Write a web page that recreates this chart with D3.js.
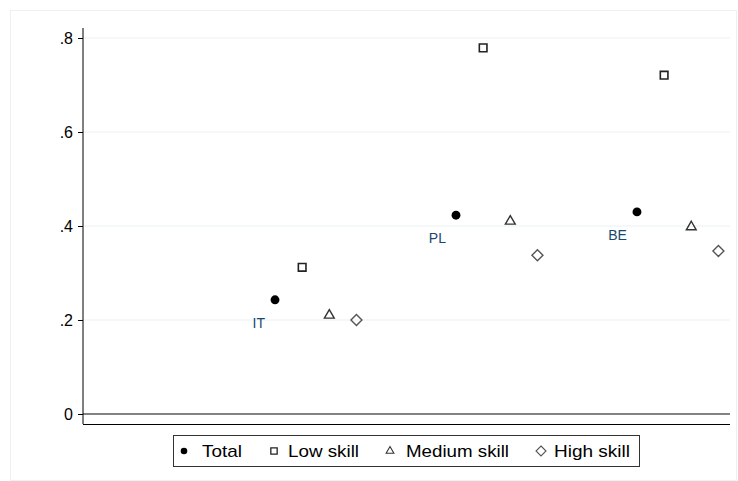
<!DOCTYPE html>
<html><head><meta charset="utf-8">
<script src="https://cdn.jsdelivr.net/npm/d3@7"></script>
<style>body{margin:0;background:#fff}svg{display:block;font-family:Arial,"Liberation Sans",sans-serif}</style>
</head><body>
<svg id="c" width="738" height="481"></svg>
<script>
const countries = ["IT", "PL", "BE"];
const seriesNames = ["Total", "Low skill", "Medium skill", "High skill"];
const totalVals = [0.243, 0.423, 0.430];
const lowVals = [0.312, 0.779, 0.721];
const mediumVals = [0.210, 0.410, 0.398];
const highVals = [0.200, 0.338, 0.347];
const yTicks = [0, 0.2, 0.4, 0.6, 0.8];
const yTickLabels = ["0", ".2", ".4", ".6", ".8"];

(function () {
const svg = d3.select("#c");
const pL = 83, pR = 730, pT = 28, pB = 424;

svg.append("rect").attr("x", 10.5).attr("y", 10.5).attr("width", 726).attr("height", 470)
  .attr("fill", "#fff").attr("stroke", "#eaf2f3").attr("stroke-width", 1);

const x = d3.scaleLinear().domain([-1.061, 2.514]).range([pL, pR]);
const y = d3.scaleLinear().domain([-0.0213, 0.8213]).range([pB, pT]);

// gridlines
svg.append("g").selectAll("line").data(yTicks.filter(d => d > 0)).join("line")
  .attr("x1", pL + 1).attr("x2", pR).attr("y1", d => y(d)).attr("y2", d => y(d))
  .attr("stroke", "#eaf2f3").attr("stroke-width", 1.2);

// zero line
svg.append("line").attr("x1", pL).attr("x2", pR).attr("y1", y(0)).attr("y2", y(0))
  .attr("stroke", "#5a5a5a").attr("stroke-width", 1.6);

// y axis
const yAxis = d3.axisLeft(y).tickValues(yTicks).tickFormat((d, i) => yTickLabels[i]).tickSize(5).tickPadding(5);
const ga = svg.append("g").attr("transform", `translate(${pL},0)`).call(yAxis);
ga.select(".domain").attr("d", `M0,${pT}V${pB}`).attr("stroke", "#000");
ga.selectAll(".tick line").attr("stroke", "#000");
ga.selectAll(".tick text").attr("font-size", 16).attr("fill", "#000")
  .attr("font-family", "Arial, 'Liberation Sans', sans-serif");

// bottom axis line
svg.append("line").attr("x1", pL).attr("x2", pR).attr("y1", pB + 0.5).attr("y2", pB + 0.5)
  .attr("stroke", "#000").attr("stroke-width", 1.2);

const offsets = [0, 0.15, 0.30, 0.45];
const allVals = [totalVals, lowVals, mediumVals, highVals];

const sym = {
  circle: d3.symbol().type(d3.symbolCircle).size(62)(),
  square: d3.symbol().type(d3.symbolSquare).size(58)(),
  triangle: d3.symbol().type(d3.symbolTriangle).size(42)(),
  diamond: "M0,-5.5L5.5,0L0,5.5L-5.5,0Z"
};
const styles = [
  {p: sym.circle, fill: "#000", stroke: "none", sw: 0},
  {p: sym.square, fill: "none", stroke: "#222", sw: 1.6},
  {p: sym.triangle, fill: "none", stroke: "#333", sw: 1.4},
  {p: sym.diamond, fill: "none", stroke: "#555", sw: 1.4}
];

allVals.forEach((vals, s) => {
  svg.append("g").selectAll("path").data(vals).join("path")
    .attr("d", styles[s].p)
    .attr("transform", (d, i) => `translate(${x(i + offsets[s])},${y(d)})`)
    .attr("fill", styles[s].fill).attr("stroke", styles[s].stroke).attr("stroke-width", styles[s].sw);
});

// country labels
svg.append("g").selectAll("text").data(countries).join("text")
  .attr("x", (d, i) => x(i) - 10).attr("y", (d, i) => y(totalVals[i]) + 28)
  .attr("text-anchor", "end").attr("font-size", 14).attr("fill", "#1a476f").text(d => d);

// legend
svg.append("rect").attr("x", 173.5).attr("y", 435.5).attr("width", 466).attr("height", 31)
  .attr("fill", "#fff").attr("stroke", "#333").attr("stroke-width", 1);
const legSymX = [184, 274, 390, 541];
const legTextX = [202, 288, 406, 554];
const legTextW = [40, 71, 103, 76];
const legSyms = [
  {p: d3.symbol().type(d3.symbolCircle).size(34)(), fill: "#000", stroke: "none", sw: 0},
  {p: d3.symbol().type(d3.symbolSquare).size(40)(), fill: "none", stroke: "#222", sw: 1.3},
  {p: d3.symbol().type(d3.symbolTriangle).size(26)(), fill: "none", stroke: "#333", sw: 1.1},
  {p: "M0,-5L5,0L0,5L-5,0Z", fill: "none", stroke: "#555", sw: 1.1}
];
seriesNames.forEach((n, i) => {
  svg.append("path").attr("d", legSyms[i].p).attr("transform", `translate(${legSymX[i]},451)`)
    .attr("fill", legSyms[i].fill).attr("stroke", legSyms[i].stroke).attr("stroke-width", legSyms[i].sw);
  svg.append("text").attr("x", legTextX[i]).attr("y", 457).attr("font-size", 17).attr("fill", "#000")
    .attr("textLength", legTextW[i]).attr("lengthAdjust", "spacingAndGlyphs").text(n);
});
})();
</script>
</body></html>
